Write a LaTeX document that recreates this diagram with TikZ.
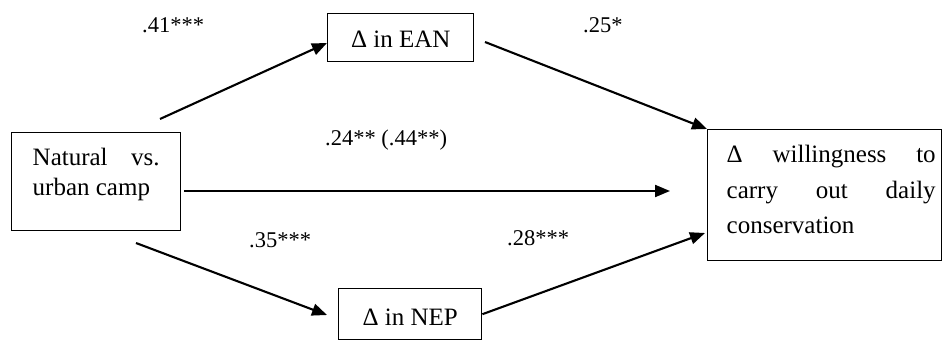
\documentclass[tikz,border=0pt]{standalone}
\usepackage{fontspec}
\setmainfont{Liberation Serif}
\usetikzlibrary{arrows.meta}
\begin{document}
\begin{tikzpicture}[x=1pt,y=-1pt,
  box/.style={draw, line width=1.4pt, rectangle, inner sep=0pt, anchor=north west,
    font=\fontsize{25}{30}\selectfont},
  coef/.style={anchor=base west, inner sep=0pt, font=\fontsize{22.5}{27}\selectfont},
  link/.style={line width=2.1pt, -{Triangle[length=15pt,width=12pt]}}
]
\useasboundingbox (0,0) rectangle (944,342);

% boxes
\node[box, minimum width=169pt, text height=33pt, text depth=65pt] (camp) at (11,132)
  {\vtop{\baselineskip=30pt
     \hbox to 127pt{Natural\hfill vs.}
     \hbox{urban camp}}};
\node[box, minimum width=146pt, text height=34pt, text depth=14pt] (ean) at (327,13)
  {Δ in EAN};
\node[box, minimum width=143pt, text height=37pt, text depth=14pt] (nep) at (338,288)
  {Δ in NEP};
\node[box, minimum width=234pt, text height=33pt, text depth=98pt] (will) at (707,129)
  {\kern13pt\vtop{\baselineskip=35.5pt
     \hbox to 209pt{Δ\hfill willingness\hfill to}
     \hbox to 209pt{carry\hfill out\hfill daily}
     \hbox{conservation}}};

% free ends of the paths
\coordinate (s1) at (160,119);
\coordinate (e1) at (327,43);
\coordinate (s2) at (485,42);
\coordinate (s3) at (184,191);
\coordinate (e3) at (670,191);
\coordinate (s4) at (136,243);
\coordinate (e4) at (327,315);
\coordinate (e5) at (705,233);

% paths
\draw[link] (s1) -- (e1);
\draw[link] (s2) -- (will.north west);
\draw[link] (s3) -- (e3);
\draw[link] (s4) -- (e4);
\draw[link] (nep.east) -- (e5);

% coefficients
\node[coef] (c1) at (142,33) {.41***};
\node[coef] (c2) at (583,33) {.25*};
\node[coef] (c3) at (325,146) {.24** (.44**)};
\node[coef] (c4) at (249,247) {.35***};
\node[coef] (c5) at (507,245) {.28***};
\end{tikzpicture}
\end{document}
